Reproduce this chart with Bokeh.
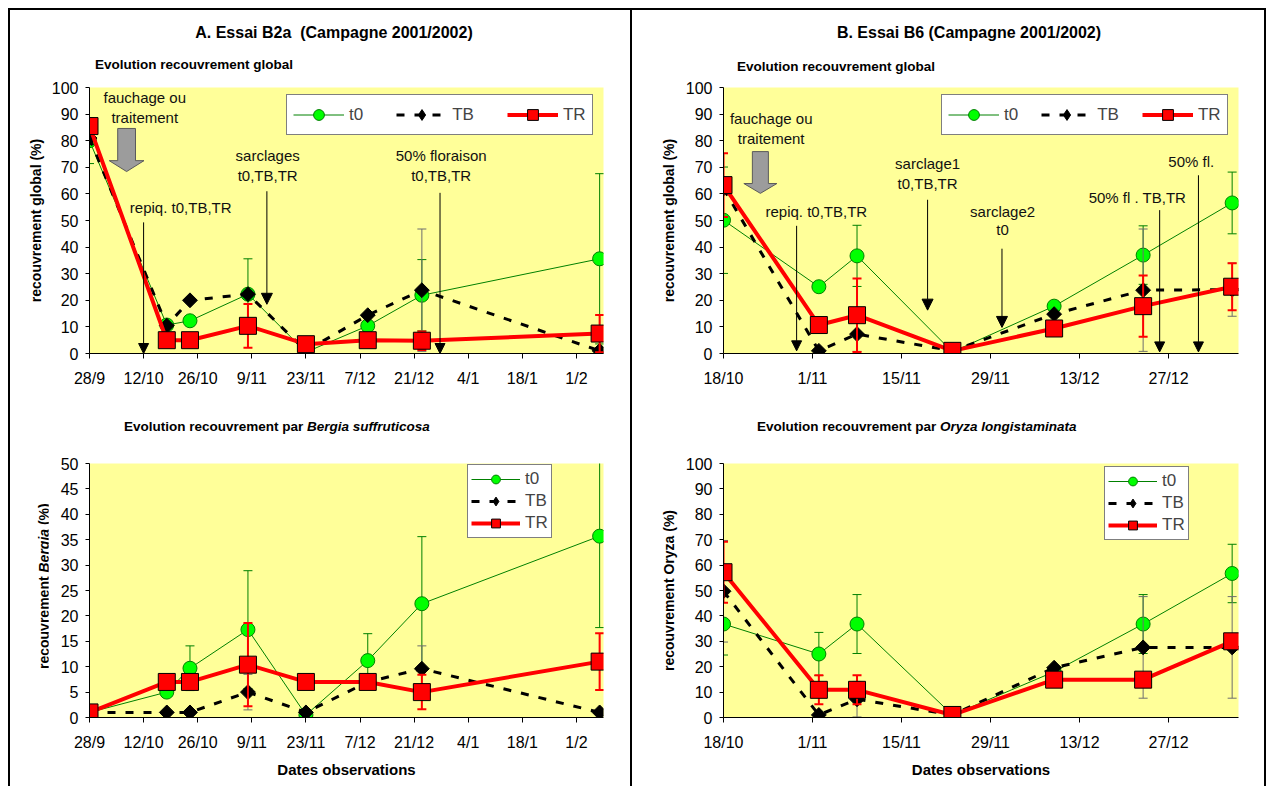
import numpy as np
import pandas as pd
from bokeh.plotting import figure
from bokeh.models import Range1d, FixedTicker, Label, Arrow, NormalHead, Legend, LegendItem, Div
from bokeh.layouts import row, column
from bokeh.embed import file_html
from bokeh.resources import INLINE

# ---------------------------------------------------------------- DATA
A_START, A_END = "2001-09-28", "2002-02-08"
B_START, B_END = "2001-10-18", "2002-01-07"

A_tick_dates = ["2001-09-28", "2001-10-12", "2001-10-26", "2001-11-09", "2001-11-23",
                "2001-12-07", "2001-12-21", "2002-01-04", "2002-01-18", "2002-02-01"]
B_tick_dates = ["2001-10-18", "2001-11-01", "2001-11-15", "2001-11-29", "2001-12-13", "2001-12-27"]

A_dates = ["2001-09-28", "2001-10-18", "2001-10-24", "2001-11-08", "2001-11-23",
           "2001-12-09", "2001-12-23", "2002-02-07"]
B_dates = ["2001-10-18", "2001-11-02", "2001-11-08", "2001-11-23", "2001-12-09",
           "2001-12-23", "2002-01-06"]

# Essai B2a - recouvrement global
A_glob_t0 = [80.0, 10.7, 12.3, 22.3, 0.5, 10.4, 21.9, 35.6]
A_glob_t0_err = [8.6, 0, 0, 13.3, 0, 0, 13.4, 32.0]
A_glob_TB = [81.0, 10.5, 20.0, 22.3, 1.0, 14.4, 23.8, 1.0]
A_glob_TB_err = [0, 0, 0, 0, 0, 0, 23.0, 0]
A_glob_TR = [85.5, 5.0, 5.0, 10.4, 3.5, 5.0, 4.8, 7.5]
A_glob_TR_err = [0, 0, 0, 8.2, 0, 0, 3.5, 7.0]

# Essai B2a - recouvrement Bergia
A_berg_t0 = [1.0, 5.0, 9.7, 17.3, 0.5, 11.2, 22.4, 35.7]
A_berg_t0_err = [0, 0, 4.4, 11.6, 0, 5.3, 13.2, 18.0]
A_berg_TB = [1.0, 1.0, 1.0, 5.0, 1.0, 7.0, 9.6, 1.0]
A_berg_TB_err = [0, 0, 0, 3.5, 0, 0, 4.5, 0]
A_berg_TR = [1.0, 7.0, 7.0, 10.4, 7.0, 7.0, 5.0, 11.0]
A_berg_TR_err = [0, 0, 0, 8.2, 0, 0, 3.4, 5.6]

# Essai B6 - recouvrement global
B_glob_t0 = [50.1, 25.1, 36.7, 0.6, 17.8, 37.0, 56.6]
B_glob_t0_err = [20.0, 0, 11.5, 0, 0, 11.0, 11.6]
B_glob_TB = [62.0, 1.0, 7.3, 1.0, 14.8, 23.8, 24.0]
B_glob_TB_err = [0, 0, 6.5, 0, 0, 23.0, 10.0]
B_glob_TR = [63.3, 10.7, 14.4, 1.0, 9.4, 17.8, 25.1]
B_glob_TR_err = [12.0, 0, 13.8, 0, 0, 11.5, 8.8]

# Essai B6 - recouvrement Oryza
B_ory_t0 = [36.8, 25.0, 36.8, 1.0, 18.0, 36.8, 56.7]
B_ory_t0_err = [12.2, 8.5, 11.6, 0, 0, 11.6, 11.5]
B_ory_TB = [49.7, 1.0, 7.2, 1.0, 19.6, 27.6, 27.6]
B_ory_TB_err = [20.0, 0, 7.0, 0, 0, 20.0, 20.0]
B_ory_TR = [57.2, 10.9, 10.9, 1.0, 14.9, 14.9, 30.0]
B_ory_TR_err = [12.0, 5.7, 5.7, 0, 0, 0, 0]

SERIES_NAMES = ["t0", "TB", "TR"]

# ---------------------------------------------------------------- STYLE
FONT = "Liberation Sans"
YELLOW = "#FFFF99"
STY = {
    "t0": dict(lc="#008000", lw=1, dash="solid", marker="circle", size=14, fill="#00FF00",
               mline="#008000", angle=0.0, ec="#008000", ew=1, legend_marker=None),
    "TB": dict(lc="black", lw=3, dash="8 10", marker="square", size=10.5, fill="black",
               mline="black", angle=np.pi / 4, ec="#6E6E6E", ew=1, legend_marker="diamond"),
    "TR": dict(lc="#FF0000", lw=4, dash="solid", marker="square", size=17, fill="#FF0000",
               mline="black", angle=0.0, ec="#FF0000", ew=2, legend_marker=None),
}


def dnum(d, start):
    return (pd.Timestamp(d) - pd.Timestamp(start)).days


def make_fig(width, height, left, right, top, bottom, start, end, ymax, ystep, tick_dates):
    p = figure(width=width, height=height, x_range=Range1d(0, dnum(end, start)),
               y_range=Range1d(0, ymax),
               min_border_left=left, min_border_right=right, min_border_top=top,
               min_border_bottom=bottom, toolbar_location=None, output_backend="svg",
               background_fill_color=YELLOW, border_fill_color="white", outline_line_color=None)
    p.xgrid.visible = False
    p.ygrid.visible = False
    tpos = [dnum(d, start) for d in tick_dates]
    tlab = [f"{pd.Timestamp(d).day}/{pd.Timestamp(d).month}" for d in tick_dates]
    p.xaxis.ticker = FixedTicker(ticks=tpos)
    p.xaxis.major_label_overrides = dict(zip(tpos, tlab))
    p.yaxis.ticker = FixedTicker(ticks=list(range(0, ymax + 1, ystep)))
    for ax in (p.xaxis[0], p.yaxis[0]):
        ax.axis_line_color = "black"
        ax.major_tick_line_color = "black"
        ax.minor_tick_line_color = None
        ax.major_tick_in = 0
        ax.major_label_text_font = FONT
        ax.major_label_text_font_size = "16px"
        ax.major_label_text_color = "black"
        ax.axis_label_text_font = FONT
        ax.axis_label_text_font_style = "bold"
        ax.axis_label_text_color = "black"
    p.xaxis.major_tick_out = 5
    p.xaxis.major_label_standoff = 11
    p.yaxis.major_tick_out = 4
    p.yaxis.major_label_standoff = 7
    return p


def draw_series(p, start, dates, vals, errs, name):
    s = STY[name]
    x = [dnum(d, start) for d in dates]
    xe = [xi for xi, e in zip(x, errs) if e > 0]
    lo = [v - e for v, e in zip(vals, errs) if e > 0]
    hi = [v + e for v, e in zip(vals, errs) if e > 0]
    if xe:
        p.segment(x0=xe, y0=lo, x1=xe, y1=hi, line_color=s["ec"], line_width=s["ew"])
        p.scatter(x=xe + xe, y=lo + hi, marker="dash", size=9, line_color=s["ec"], line_width=s["ew"])
    ln = p.line(x, vals, line_color=s["lc"], line_width=s["lw"], line_dash=s["dash"])
    mk = p.scatter(x, vals, marker=s["marker"], size=s["size"], angle=s["angle"],
                   fill_color=s["fill"], line_color=s["mline"], line_width=1)
    if s["legend_marker"] is not None:
        # legend-only sample marker: a single NaN point, never drawn in the plot area
        mk = p.scatter(x=np.array([np.nan]), y=np.array([np.nan]), marker=s["legend_marker"],
                       fill_color=s["fill"], line_color=s["mline"], line_width=1)
    return ln, mk


def add_legend(p, rends, orientation, vx, vy, glyph_w, glyph_h, spacing, padding):
    items = [LegendItem(label=n, renderers=list(r)) for n, r in zip(SERIES_NAMES, rends)]
    lg = Legend(items=items, orientation=orientation, location=(vx, vy), glyph_width=glyph_w,
                glyph_height=glyph_h, label_standoff=5, spacing=spacing, padding=padding, margin=0,
                border_line_color="black", border_line_width=1, background_fill_color="white",
                background_fill_alpha=1.0, label_text_font=FONT, label_text_font_size="17px",
                label_width=10, label_height=10)
    p.add_layout(lg)


def block_arrow(p, c, hw, hh, top, neck, tip):
    xs = [c - hw, c + hw, c + hw, c + hh, c, c - hh, c - hw]
    ys = [top, top, neck, neck, tip, neck, neck]
    p.patch(xs, ys, fill_color="#9C9C9C", line_color="#5A5A5A", line_width=1)


def down_arrow(p, x, y0, y1, size=10):
    p.add_layout(Arrow(x_start=x, y_start=y0, x_end=x, y_end=y1, line_color="black", line_width=1,
                       end=NormalHead(size=size, fill_color="black", line_color="black")))


def data_text(p, x, y, txt):
    p.add_layout(Label(x=x, y=y, text=txt, text_font=FONT, text_font_size="15px",
                       text_align="center", text_baseline="middle", text_color="#111111"))


def html_div(html, w, h):
    return Div(text=html, width=w, height=h, margin=0,
               styles={"font-family": FONT, "color": "black", "overflow": "visible"})


def title_block(w, h, title, title_w, title_h, sub_html, sub_left, sub_h):
    html = (f'<div style="font:bold 16px \'{FONT}\';width:{title_w}px;height:{title_h}px;'
            f'line-height:{title_h}px;text-align:center;white-space:pre;">{title}</div>'
            f'<div style="font:bold 13.5px \'{FONT}\';height:{sub_h}px;line-height:{sub_h}px;'
            f'padding-left:{sub_left}px;white-space:pre;">{sub_html}</div>')
    return html_div(html, w, h)


def sub_block(w, h, sub_html, sub_left, sub_h):
    html = (f'<div style="font:bold 13.5px \'{FONT}\';height:{sub_h}px;line-height:{sub_h}px;'
            f'padding-left:{sub_left}px;white-space:pre;">{sub_html}</div>')
    return html_div(html, w, h)


# ---------------------------------------------------------------- PANELS
TL = make_fig(620, 323, 79, 27, 10, 47, A_START, A_END, 100, 10, A_tick_dates)
TR = make_fig(632, 323, 91, 26, 10, 47, B_START, B_END, 100, 10, B_tick_dates)
BL = make_fig(582, 333, 41, 27, 10, 69, A_START, A_END, 50, 5, A_tick_dates)
BR = make_fig(632, 333, 91, 26, 10, 69, B_START, B_END, 100, 10, B_tick_dates)

# --- A. global
block_arrow(TL, 9.6, 2.3, 4.5, 84.6, 72.5, 68.4)
r = [draw_series(TL, A_START, A_dates, A_glob_t0, A_glob_t0_err, "t0"),
     draw_series(TL, A_START, A_dates, A_glob_TB, A_glob_TB_err, "TB"),
     draw_series(TL, A_START, A_dates, A_glob_TR, A_glob_TR_err, "TR")]
add_legend(TL, r, "horizontal", 197, 218, 51, 27, 33, 6)
data_text(TL, 14.3, 96.2, "fauchage ou")
data_text(TL, 14.3, 88.7, "traitement")
data_text(TL, 23.6, 54.9, "repiq. t0,TB,TR")
down_arrow(TL, 14.0, 49.3, 0.0)
data_text(TL, 46.1, 74.4, "sarclages")
data_text(TL, 46.1, 66.9, "t0,TB,TR")
down_arrow(TL, 45.9, 61.0, 18.5, 11)
data_text(TL, 91.0, 74.4, "50% floraison")
data_text(TL, 91.0, 66.9, "t0,TB,TR")
down_arrow(TL, 90.7, 60.4, 0.0)
TL.yaxis.axis_label = "recouvrement global (%)"
TL.yaxis.axis_label_text_font_size = "14px"
TL.yaxis.axis_label_standoff = 5

# --- B. global
block_arrow(TR, 5.8, 1.26, 2.6, 75.9, 63.9, 60.2)
r = [draw_series(TR, B_START, B_dates, B_glob_t0, B_glob_t0_err, "t0"),
     draw_series(TR, B_START, B_dates, B_glob_TB, B_glob_TB_err, "TB"),
     draw_series(TR, B_START, B_dates, B_glob_TR, B_glob_TR_err, "TR")]
add_legend(TR, r, "horizontal", 218, 218, 51, 27, 23, 6)
data_text(TR, 7.5, 88.3, "fauchage ou")
data_text(TR, 7.5, 80.8, "traitement")
data_text(TR, 14.6, 53.4, "repiq. t0,TB,TR")
down_arrow(TR, 11.5, 48.0, 1.0)
data_text(TR, 32.1, 71.4, "sarclage1")
data_text(TR, 32.1, 63.9, "t0,TB,TR")
down_arrow(TR, 32.1, 57.8, 16.3, 11)
data_text(TR, 43.9, 53.4, "sarclage2")
data_text(TR, 43.9, 46.6, "t0")
down_arrow(TR, 43.8, 39.4, 9.8, 11)
data_text(TR, 65.1, 58.6, "50% fl . TB,TR")
down_arrow(TR, 68.6, 53.9, 0.6)
data_text(TR, 73.9, 72.2, "50%  fl.")
down_arrow(TR, 74.7, 67.0, 0.6)
TR.yaxis.axis_label = "recouvrement global (%)"
TR.yaxis.axis_label_text_font_size = "14px"
TR.yaxis.axis_label_standoff = 6

# --- A. Bergia
r = [draw_series(BL, A_START, A_dates, A_berg_t0, A_berg_t0_err, "t0"),
     draw_series(BL, A_START, A_dates, A_berg_TB, A_berg_TB_err, "TB"),
     draw_series(BL, A_START, A_dates, A_berg_TR, A_berg_TR_err, "TR")]
add_legend(BL, r, "vertical", 378, 179, 49, 22, 0, 3)
BL.xaxis.axis_label = "Dates observations"
BL.xaxis.axis_label_text_font_size = "15px"
BL.xaxis.axis_label_standoff = 7

# --- B. Oryza
r = [draw_series(BR, B_START, B_dates, B_ory_t0, B_ory_t0_err, "t0"),
     draw_series(BR, B_START, B_dates, B_ory_TB, B_ory_TB_err, "TB"),
     draw_series(BR, B_START, B_dates, B_ory_TR, B_ory_TR_err, "TR")]
add_legend(BR, r, "vertical", 381, 177, 49, 22, 0, 3)
BR.xaxis.axis_label = "Dates observations"
BR.xaxis.axis_label_text_font_size = "15px"
BR.xaxis.axis_label_standoff = 7
BR.yaxis.axis_label = "recouvrement Oryza (%)"
BR.yaxis.axis_label_text_font_size = "14px"
BR.yaxis.axis_label_standoff = 6

# ---------------------------------------------------------------- TEXT BLOCKS
A_title = title_block(620, 67, "A. Essai B2a  (Campagne 2001/2002)", 648, 46,
                      "Evolution recouvrement global", 85, 18)
B_title = title_block(632, 67, "B. Essai B6 (Campagne 2001/2002)", 674, 46,
                      "Evolution recouvrement global", 105, 22)
A_sub = sub_block(620, 53, "Evolution recouvrement par <i>Bergia suffruticosa</i>", 114, 54)
B_sub = sub_block(632, 53, "Evolution recouvrement par <i>Oryza longistaminata</i>", 125, 54)

ylab_html = ('<div style="position:relative;width:38px;height:333px;">'
             f'<div style="font:bold 14px \'{FONT}\';line-height:16px;position:absolute;'
             'left:26px;top:49px;height:167px;writing-mode:vertical-rl;'
             'transform:rotate(180deg);white-space:pre;">'
             'recouvrement <i>Bergia</i> (%)</div></div>')
BL_ylab = html_div(ylab_html, 38, 333)


def bar(w, h):
    return Div(width=w, height=h, margin=0, styles={"background-color": "black"})


left_col = column(A_title, TL, A_sub, row(BL_ylab, BL))
right_col = column(B_title, TR, B_sub, BR)
layout = column(bar(1258, 2),
                row(bar(2, 776), left_col, bar(2, 776), right_col, bar(2, 776)),
                margin=(8, 0, 0, 8))

open("out.html", "w").write(file_html(layout, INLINE, title="Recouvrement"))
